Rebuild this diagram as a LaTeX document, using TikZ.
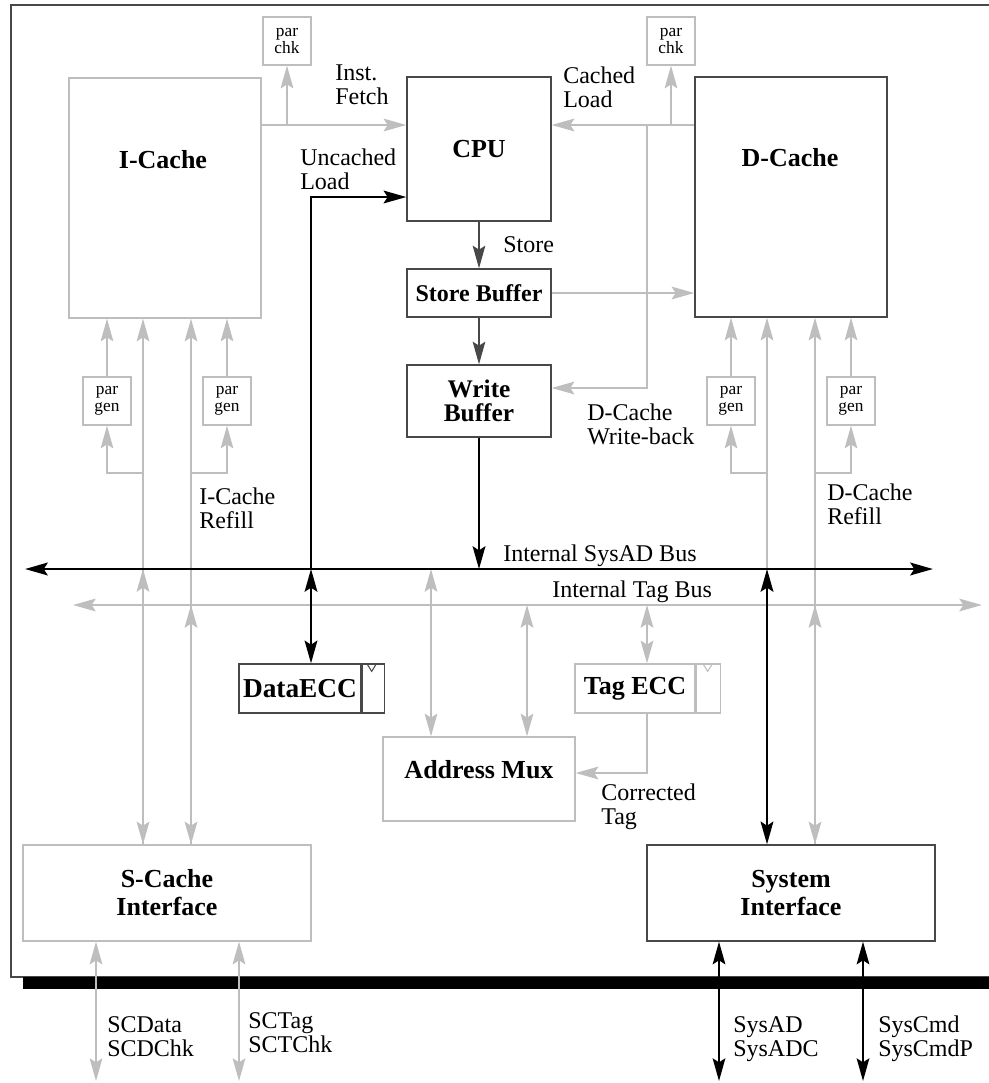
\documentclass[tikz,border=0pt]{standalone}
\usepackage{fontspec}
\setmainfont{Liberation Serif}
\usepackage{tikz}
\usetikzlibrary{arrows.meta, positioning, calc}
\definecolor{cGray}{RGB}{190,190,190}
\definecolor{cDark}{RGB}{72,72,72}
\tikzset{
	boxdark/.style  ={rectangle, draw=cDark, line width=1pt, inner sep=0pt, align=center, font=\bfseries\fontsize{19.5}{21}\selectfont},
	boxgray/.style  ={rectangle, draw=cGray, line width=1pt, inner sep=0pt, align=center, font=\bfseries\fontsize{19.5}{21}\selectfont},
	parbox/.style   ={rectangle, draw=cGray, line width=1pt, minimum width=36pt, minimum height=36pt, inner sep=0pt, align=center, font=\fontsize{13}{12.5}\selectfont},
	blocktitle/.style={inner sep=0pt, align=center, font=\bfseries\fontsize{19.5}{21}\selectfont},
	sigtext/.style  ={inner sep=0pt, align=left, anchor=north west, font=\fontsize{18}{18}\selectfont},
	bustext/.style  ={inner sep=0pt, anchor=base west, font=\fontsize{18}{18}\selectfont},
	% connector styles
	gline/.style    ={draw=cGray, line width=1.5pt},
	gthin/.style    ={draw=cGray, line width=1pt},
	bline/.style    ={draw=black, line width=1.9pt},
	dline/.style    ={draw=cDark, line width=1.1pt},
}

\begin{document}
\begin{tikzpicture}[x=0.75pt, y=-0.75pt, >={Stealth[length=17pt, width=9.5pt, inset=3pt]}]
	\useasboundingbox (0,0) rectangle (989,1083);
	% chip outline and pin bar
	\draw[cDark, line width=1.2pt] (989,5) -- (11,5) -- (11,977) -- (989,977);
	\fill (23,977) rectangle (989,989);

	% blocks
	\node[boxgray, minimum width=144pt, minimum height=180pt] (icache) at (165,198) {};
	\node[blocktitle] (icachelbl) at (163,160) {I-Cache};
	\node[boxdark, minimum width=108pt, minimum height=108pt] (cpu) at (479,149) {CPU};
	\node[boxdark, minimum width=144pt, minimum height=180pt] (dcache) at (791,197) {};
	\node[blocktitle] (dcachelbl) at (790,158) {D-Cache};
	\node[parbox] (pchkL) at (287,41) {par\\chk};
	\node[parbox] (pchkR) at (671,41) {par\\chk};
	\node[boxdark, minimum width=108pt, minimum height=36pt, font=\bfseries\fontsize{18}{18}\selectfont] (sbuf) at (479,293) {Store Buffer};
	\node[boxdark, minimum width=108pt, minimum height=54pt, font=\bfseries\fontsize{19}{17.5}\selectfont] (wbuf) at (479,401) {Write\\Buffer};
	\node[parbox] (pgenA) at (107,401) {par\\gen};
	\node[parbox] (pgenB) at (227,401) {par\\gen};
	\node[parbox] (pgenC) at (731,401) {par\\gen};
	\node[parbox] (pgenD) at (851,401) {par\\gen};
	\node[boxdark, minimum width=91.5pt, minimum height=36.75pt, font=\bfseries\fontsize{20.5}{21}\selectfont] (dataecc) at (300,688.5) {DataECC};
	\node[boxdark, minimum width=16.5pt, minimum height=36.75pt, right=0pt of dataecc] (dataflag) {};
	\node[boxgray, minimum width=90pt, minimum height=36.75pt] (tagecc) at (635,688.5) {Tag ECC};
	\node[boxgray, minimum width=18pt, minimum height=36.75pt, right=0pt of tagecc] (tagflag) {};
	\draw[cDark, line width=0.8pt] (dataflag.north west) ++(5,0) -- ++(5,8) -- ++(5,-8);
	\draw[cGray, line width=0.8pt] (tagflag.north west) ++(7,0) -- ++(5,8) -- ++(5,-8);
	\node[boxgray, minimum width=144pt, minimum height=63pt] (amux) at (479,779) {};
	\node[blocktitle] (amuxlbl) at (479,770) {Address Mux};
	\node[boxgray, minimum width=216pt, minimum height=72pt] (scache) at (167,893) {S-Cache\\Interface};
	\node[boxdark, minimum width=216pt, minimum height=72pt] (sysif) at (791,893) {System\\Interface};

	% row and column points
	\coordinate (rowfetch) at (0,125);
	\coordinate (rowunc) at (0,197);
	\coordinate (rowwb) at (0,388);
	\coordinate (rowbr) at (0,473);
	\coordinate (rowct) at (0,773);
	\coordinate (wbtap) at (647,125);
	\coordinate (sysL) at (25,569);
	\coordinate (sysR) at (933,569);
	\coordinate (tagL) at (73,605);
	\coordinate (tagR) at (982,605);
	\coordinate (icA) at (143,569);
	\coordinate (icB) at (191,605);
	\coordinate (dcA) at (767,569);
	\coordinate (dcB) at (815,605);
	\coordinate (amA) at (431,569);
	\coordinate (amB) at (527,605);
	\coordinate (teA) at (647,605);
	\coordinate (uncA) at (311,569);
	\coordinate (pinA) at (96,1081);
	\coordinate (pinB) at (239,1081);
	\coordinate (pinC) at (719,1081);
	\coordinate (pinD) at (863,1081);

	% cache paths
	\draw[gline,->] (icache.east |- rowfetch) -- (cpu.west |- rowfetch);
	\draw[gline,->] (pchkL.south |- rowfetch) -- (pchkL.south);
	\draw[gline,->] (dcache.west |- rowfetch) -- (cpu.east |- rowfetch);
	\draw[gline,->] (pchkR.south |- rowfetch) -- (pchkR.south);
	\draw[gline,->] (wbtap) |- (wbuf.east |- rowwb);
	\draw[gline,->] (sbuf.east) -- (dcache.west |- sbuf.east);

	% refill paths
	\draw[gline,->] (icA |- scache.north) -- (icA |- icache.south);
	\draw[gline,<->] (icA |- scache.north) -- (icA);
	\draw[gline,->] (icB |- scache.north) -- (icB |- icache.south);
	\draw[gline,<->] (icB |- scache.north) -- (icB);
	\draw[gthin,->] (icA |- rowbr) -| (pgenA.south);
	\draw[gthin,->] (pgenA.north) -- (pgenA.north |- icache.south);
	\draw[gthin,->] (icB |- rowbr) -| (pgenB.south);
	\draw[gthin,->] (pgenB.north) -- (pgenB.north |- icache.south);
	\draw[gline,->] (dcA) -- (dcA |- dcache.south);
	\draw[gline,->] (dcB |- sysif.north) -- (dcB |- dcache.south);
	\draw[gline,<->] (dcB |- sysif.north) -- (dcB);
	\draw[gthin,->] (dcA |- rowbr) -| (pgenC.south);
	\draw[gthin,->] (pgenC.north) -- (pgenC.north |- dcache.south);
	\draw[gthin,->] (dcB |- rowbr) -| (pgenD.south);
	\draw[gthin,->] (pgenD.north) -- (pgenD.north |- dcache.south);

	% address and tag
	\draw[gline,<->] (amA |- amux.north) -- (amA);
	\draw[gline,<->] (amB |- amux.north) -- (amB);
	\draw[gline,<->] (teA) -- (teA |- tagecc.north);
	\draw[gline,->] (teA |- tagecc.south) |- (amux.east |- rowct);
	\draw[gline,<->] (tagL) -- (tagR);

	% black paths
	\draw[dline,->] (cpu.south) -- (sbuf.north);
	\draw[dline,->] (sbuf.south) -- (wbuf.north);
	\draw[bline,->] (wbuf.south) -- (wbuf.south |- sysL);
	\draw[bline,->] (uncA) |- (cpu.west |- rowunc);
	\draw[bline,<->] (uncA) -- (uncA |- dataecc.north);
	\draw[bline,<->] (dcA) -- (dcA |- sysif.north);
	\draw[bline,<->, line width=2.2pt] (sysL) -- (sysR);

	% pins
	\draw[gline,<->] (pinA |- scache.south) -- (pinA);
	\draw[gline,<->] (pinB |- scache.south) -- (pinB);
	\draw[bline,<->, line width=1.5pt] (pinC |- sysif.south) -- (pinC);
	\draw[bline,<->, line width=1.5pt] (pinD |- sysif.south) -- (pinD);

	% labels
	\node[sigtext] (fetchlbl) at (335,65) {Inst.\\Fetch};
	\node[sigtext] (cachedlbl) at (563,67) {Cached\\Load};
	\node[sigtext] (unclbl) at (300,149) {Uncached\\Load};
	\node[bustext] (storelbl) at (503,252) {Store};
	\node[sigtext] (wblbl) at (587,404) {D-Cache\\Write-back};
	\node[sigtext] (irefill) at (199,488) {I-Cache\\Refill};
	\node[sigtext] (drefill) at (827,484) {D-Cache\\Refill};
	\node[bustext] (sysbuslbl) at (503,561) {Internal SysAD Bus};
	\node[bustext] (tagbuslbl) at (552,597) {Internal Tag Bus};
	\node[sigtext] (ctlbl) at (601,784) {Corrected\\Tag};
	\node[sigtext] (pinAlbl) at (107,1016) {SCData\\SCDChk};
	\node[sigtext] (pinBlbl) at (248,1012) {SCTag\\SCTChk};
	\node[sigtext] (pinClbl) at (733,1016) {SysAD\\SysADC};
	\node[sigtext] (pinDlbl) at (878,1016) {SysCmd\\SysCmdP};
\end{tikzpicture}
\end{document}
